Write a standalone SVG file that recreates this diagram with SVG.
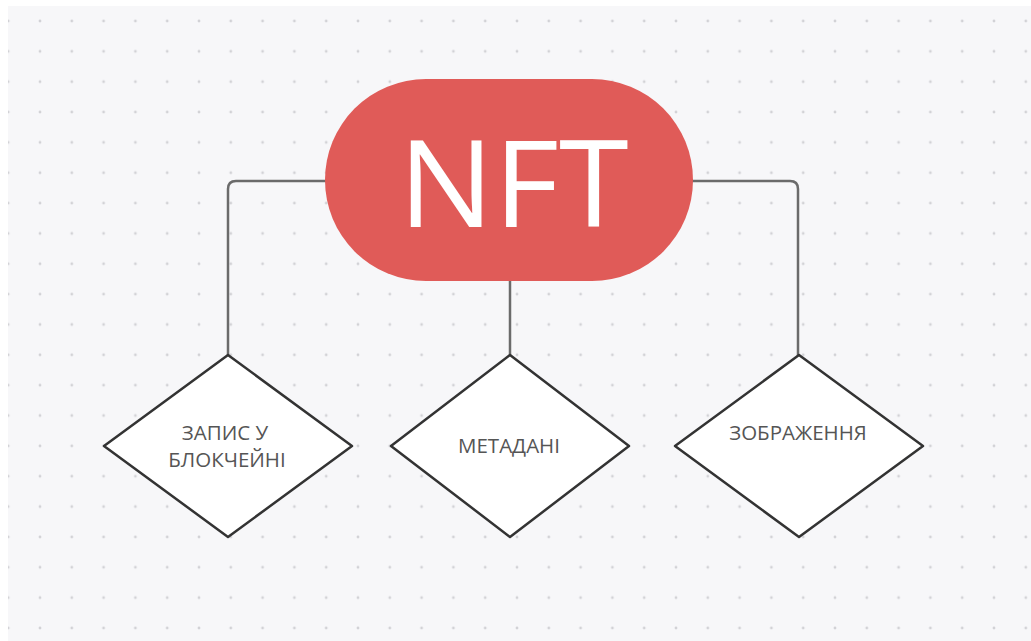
<svg xmlns="http://www.w3.org/2000/svg" width="1031" height="641" viewBox="0 0 1031 641">
  <defs>
    <pattern id="dots" x="8.2" y="21" width="31.8" height="30.35" patternUnits="userSpaceOnUse">
      <circle cx="0" cy="0" r="1.4" fill="#d2d2d6"/>
      <circle cx="31.8" cy="0" r="1.4" fill="#d2d2d6"/>
      <circle cx="0" cy="30.35" r="1.4" fill="#d2d2d6"/>
      <circle cx="31.8" cy="30.35" r="1.4" fill="#d2d2d6"/>
    </pattern>
    <style>
      .conn { fill: none; stroke: #6b6b6b; stroke-width: 2.5; stroke-linejoin: round; }
      .diamond { fill: #ffffff; stroke: #333333; stroke-width: 2.5; stroke-linejoin: round; }
      .lbl { font-family: "Open Sans", "Noto Sans", "Liberation Sans", sans-serif; font-size: 20.5px; fill: #555555; text-anchor: middle; }
      .title { font-family: "Open Sans", "Noto Sans", "Liberation Sans", sans-serif; font-size: 121px; fill: #ffffff; text-anchor: middle; }
    </style>
  </defs>
  <rect x="0" y="0" width="1031" height="641" fill="#ffffff"/>
  <rect x="8" y="6" width="1023" height="635" fill="#f7f7f9"/>
  <rect x="8" y="6" width="1023" height="635" fill="url(#dots)"/>

  <g id="connectors">
    <path class="conn" d="M 330 181 L 236 181 Q 228 181 228 189 L 228 356"/>
    <path class="conn" d="M 688 181 L 790 181 Q 798 181 798 189 L 798 356"/>
    <path class="conn" d="M 510 278 L 510 356"/>
  </g>

  <g id="nft">
    <rect x="325" y="79" width="368" height="202" rx="101" ry="101" fill="#e05b58"/>
    <text class="title" x="513.5" y="227" textLength="230" lengthAdjust="spacingAndGlyphs">NFT</text>
  </g>

  <g id="node-blockchain">
    <polygon class="diamond" points="228,355 352,446 228,537 104,446"/>
    <text class="lbl" x="225" y="440">ЗАПИС У</text>
    <text class="lbl" x="227" y="467">БЛОКЧЕЙНІ</text>
  </g>

  <g id="node-metadata">
    <polygon class="diamond" points="510,355 629,446 510,537 391,446"/>
    <text class="lbl" x="509" y="453">МЕТАДАНІ</text>
  </g>

  <g id="node-image">
    <polygon class="diamond" points="799,355 923,446 799,537 675,446"/>
    <text class="lbl" x="798" y="440">ЗОБРАЖЕННЯ</text>
  </g>
</svg>
